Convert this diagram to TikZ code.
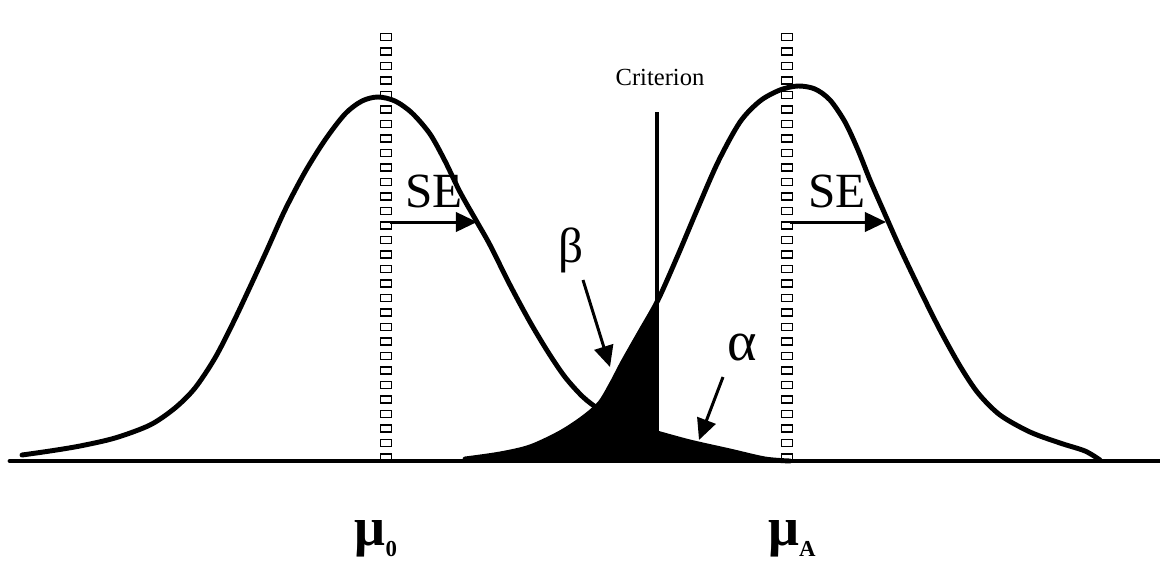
\documentclass[tikz,border=0pt]{standalone}
\usepackage{fontspec}
\setmainfont{Liberation Serif}
\usetikzlibrary{arrows.meta}

\begin{document}
\begin{tikzpicture}[
    x=0.02cm, y=-0.02cm,
    curve/.style={line width=2.8pt, line join=round, line cap=round},
    tickbox/.style={
       draw, line width=0.8pt, fill=white,
       minimum width=6.4pt, minimum height=3.9pt,
       inner sep=0pt, outer sep=0pt
        },
    pointer/.style={line width=1.7pt, -{Triangle[length=12pt, width=11pt]}},
    biglabel/.style={font=\fontsize{28}{30}\selectfont, inner sep=0pt}
    ]
\useasboundingbox (0,0) rectangle (1160,562);

% the two tail areas
\begin{scope}
  \clip (465,0) rectangle (657,470);
  \fill plot[smooth] coordinates {(465,459) (500,454) (530,447) (560,433) (583,418) (600,403) (612,383) (623,362) (640,332) (658,300) (678,255) (697,210) (718,162) (740,122) (760,101) (780,90) (798,86) (815,89) (830,100) (845,122) (858,150) (870,180) (884,212) (900,248) (920,290) (940,330) (960,366) (978,393) (1000,415) (1030,432) (1060,443) (1085,451) (1100,460)} -- cycle;
\end{scope}
\begin{scope}
  \clip (657,0) rectangle (800,470);
  \fill plot[smooth] coordinates {(22,455) (50,451) (80,446) (115,438) (150,425) (175,408) (195,388) (215,358) (233,323) (250,287) (267,250) (285,210) (305,172) (325,140) (345,114) (362,101) (378,97) (395,101) (412,113) (430,134) (445,161) (460,192) (477,222) (490,245) (510,285) (530,322) (548,352) (565,377) (583,397) (600,410) (620,421) (640,428) (657,433) (690,442) (730,451) (765,459) (790,461)} -- cycle;
\end{scope}

% dotted mean lines
\foreach \j in {0,...,29} {
   \node[tickbox] (m0-\j) at (386,37+14.5*\j) {};
   \node[tickbox] (mA-\j) at (787,37+14.5*\j) {};
  }

% the two curves
\draw[curve] plot[smooth] coordinates {(22,455) (50,451) (80,446) (115,438) (150,425) (175,408) (195,388) (215,358) (233,323) (250,287) (267,250) (285,210) (305,172) (325,140) (345,114) (362,101) (378,97) (395,101) (412,113) (430,134) (445,161) (460,192) (477,222) (490,245) (510,285) (530,322) (548,352) (565,377) (583,397) (600,410) (620,421) (640,428) (657,433) (690,442) (730,451) (765,459) (790,461)};
\draw[curve] plot[smooth] coordinates {(465,459) (500,454) (530,447) (560,433) (583,418) (600,403) (612,383) (623,362) (640,332) (658,300) (678,255) (697,210) (718,162) (740,122) (760,101) (780,90) (798,86) (815,89) (830,100) (845,122) (858,150) (870,180) (884,212) (900,248) (920,290) (940,330) (960,366) (978,393) (1000,415) (1030,432) (1060,443) (1085,451) (1100,460)};

% base line and criterion
\coordinate (base-l) at (10,461);
\coordinate (base-r) at (1160,461);
\draw[line width=2.8pt, line cap=round] (base-l) -- (base-r);
\node (crit) at (660,77) {\fontsize{14}{16}\selectfont Criterion};
\coordinate (crit-top) at (657,112);
\coordinate (crit-bot) at (657,461);
\draw[line width=2pt] (crit-top) -- (crit-bot);

% SE arrows
\node[biglabel, anchor=base west] (se0) at (405,207) {SE};
\node[biglabel, anchor=base west] (seA) at (808,207) {SE};
\coordinate (se0-s) at (390,222);
\coordinate (se0-e) at (477,222);
\coordinate (seA-s) at (790,222);
\coordinate (seA-e) at (886,222);
\draw[pointer] (se0-s) -- (se0-e);
\draw[pointer] (seA-s) -- (seA-e);

% error labels
\node[biglabel] (beta) at (571,250) {β};
\coordinate (beta-s) at (583,280);
\coordinate (beta-tip) at (610,367);
\draw[pointer] (beta-s) -- (beta-tip);
\node[biglabel, font=\fontsize{32}{34}\selectfont] (alpha) at (742,348) {α};
\coordinate (alpha-s) at (723,377);
\coordinate (alpha-tip) at (699,440);
\draw[pointer] (alpha-s) -- (alpha-tip);

% means
\node[anchor=base] (mu0) at (376,545) {\fontsize{31}{31}\selectfont\bfseries μ\raisebox{-6.5pt}{\fontsize{13}{13}\selectfont 0}};
\node[anchor=base] (muA) at (792,545) {\fontsize{31}{31}\selectfont\bfseries μ\raisebox{-6.5pt}{\fontsize{13}{13}\selectfont A}};
\end{tikzpicture}
\end{document}
